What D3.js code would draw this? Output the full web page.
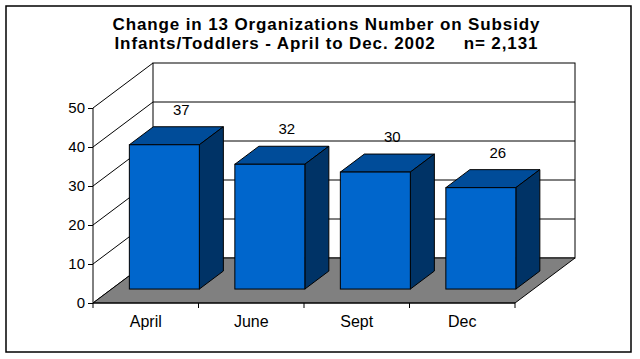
<!DOCTYPE html>
<html><head><meta charset="utf-8">
<script src="https://cdn.jsdelivr.net/npm/d3@7"></script>
<style>html,body{margin:0;padding:0;background:#fff;} text{font-family:Arial,"Liberation Sans",sans-serif;}</style>
</head><body>
<svg id="c" width="640" height="359"></svg>
<script>
const titleLines = ["Change in 13 Organizations Number on Subsidy", "Infants/Toddlers - April to Dec. 2002     n= 2,131"];
const titleWidths = [427, 423];
const categories = ["April", "June", "Sept", "Dec"];
const values = [37, 32, 30, 26];
const yTicks = [0, 10, 20, 30, 40, 50];

const svg = d3.select("#c");
// outer frame
svg.append("rect").attr("x", 6).attr("y", 6).attr("width", 625).attr("height", 346)
  .attr("fill", "#fff").attr("stroke", "#000").attr("stroke-width", 1.5);

// title
svg.append("g").selectAll("text").data(titleLines).join("text")
  .attr("x", 326).attr("y", (d, i) => 29.5 + i * 19)
  .attr("text-anchor", "middle").attr("font-size", 17).attr("font-weight", "bold")
  .attr("textLength", (d, i) => titleWidths[i]).attr("lengthAdjust", "spacing")
  .style("white-space", "pre").text(d => d);

// 3D geometry
const DX = 60, DY = -45; // full depth offset
const x = d3.scaleBand().domain(categories).range([93, 515]).paddingInner(0).paddingOuter(0);
const y = d3.scaleLinear().domain([0, 50]).range([303, 108]);
const off = f => [DX * f, DY * f];

// back wall
const bw = off(1);
svg.append("rect").attr("x", 93 + bw[0]).attr("y", y(50) + bw[1])
  .attr("width", 515 - 93).attr("height", y(0) - y(50))
  .attr("fill", "#fff").attr("stroke", "#000").attr("stroke-width", 1);
// back wall gridlines
svg.append("g").selectAll("line").data(yTicks.slice(1, -1)).join("line")
  .attr("x1", 93 + bw[0]).attr("x2", 515 + bw[0])
  .attr("y1", d => y(d) + bw[1]).attr("y2", d => y(d) + bw[1])
  .attr("stroke", "#000").attr("stroke-width", 1);
// left wall lines
svg.append("g").selectAll("line").data(yTicks).join("line")
  .attr("x1", 93).attr("y1", d => y(d))
  .attr("x2", 93 + bw[0]).attr("y2", d => y(d) + bw[1])
  .attr("stroke", "#000").attr("stroke-width", 1);

// floor
const floorPts = [[93, y(0)], [515, y(0)], [515 + bw[0], y(0) + bw[1]], [93 + bw[0], y(0) + bw[1]]];
svg.append("polygon").attr("points", floorPts.map(p => p.join(",")).join(" "))
  .attr("fill", "#808080").attr("stroke", "#000").attr("stroke-width", 1);

// y axis (front)
const yAxis = d3.axisLeft(y).tickValues(yTicks).tickSize(5).tickPadding(3).tickFormat(d3.format("d"));
const ga = svg.append("g").attr("transform", "translate(93,0)").call(yAxis);
ga.select(".domain").attr("stroke", "#000").attr("d", `M0,${y(0)}V${y(50)}`);
ga.selectAll(".tick line").attr("stroke", "#000");
ga.selectAll(".tick text").attr("font-size", 15).attr("fill", "#000")
  .attr("font-family", "Arial, 'Liberation Sans', sans-serif");

// category axis
const edges = categories.map(c => x(c)).concat([x(categories[categories.length - 1]) + x.bandwidth()]);
svg.append("g").selectAll("line").data(edges).join("line")
  .attr("x1", d => d).attr("x2", d => d).attr("y1", y(0)).attr("y2", y(0) + 5)
  .attr("stroke", "#000");
svg.append("line").attr("x1", 93).attr("x2", 515).attr("y1", y(0)).attr("y2", y(0)).attr("stroke", "#000");
svg.append("g").selectAll("text").data(categories).join("text")
  .attr("x", d => x(d) + x.bandwidth() / 2).attr("y", 327)
  .attr("text-anchor", "middle").attr("font-size", 16).text(d => d);

// bars
const fFront = 0.31, fBack = 0.71;
const barW = 70;
const of = off(fFront), ob = off(fBack);
const bars = svg.append("g").selectAll("g").data(categories.map((c, i) => ({c, v: values[i]}))).join("g");
bars.each(function(d) {
  const g = d3.select(this);
  const x0 = x(d.c) + (x.bandwidth() - barW) / 2 + of[0];
  const x1 = x0 + barW;
  const yb = y(0) + of[1], yt = y(d.v) + of[1];
  const ddx = ob[0] - of[0], ddy = ob[1] - of[1];
  const pts = a => a.map(p => p.join(",")).join(" ");
  g.append("polygon").attr("points", pts([[x0, yt], [x1, yt], [x1 + ddx, yt + ddy], [x0 + ddx, yt + ddy]]))
    .attr("fill", "#004C99").attr("stroke", "#000");
  g.append("polygon").attr("points", pts([[x1, yt], [x1 + ddx, yt + ddy], [x1 + ddx, yb + ddy], [x1, yb]]))
    .attr("fill", "#003366").attr("stroke", "#000");
  g.append("rect").attr("x", x0).attr("y", yt).attr("width", barW).attr("height", yb - yt)
    .attr("fill", "#0066CC").attr("stroke", "#000");
  g.append("text").attr("x", x0 + barW / 2 + 17).attr("y", yt + ddy - 12)
    .attr("text-anchor", "middle").attr("font-size", 15).text(d.v);
});
</script>
</body></html>
